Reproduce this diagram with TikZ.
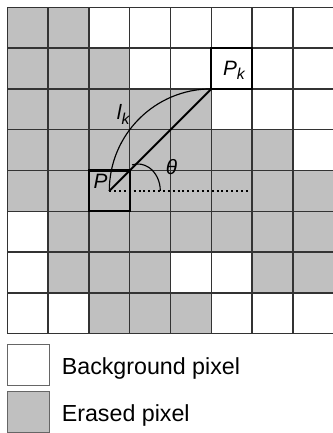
\documentclass[tikz,border=0pt]{standalone}
\usepackage{fontspec}
\setmainfont{Liberation Sans}
\definecolor{erased}{RGB}{192,192,192}
\tikzset{
  gridline/.style={black!80,line width=0.9pt},
  boldcell/.style={black,line width=1.6pt},
  lbl/.style={font=\fontsize{14.5}{17}\selectfont\itshape,inner sep=0pt,anchor=base west},
  legendbox/.style={draw=black!60,line width=0.7pt},
  legendtext/.style={font=\fontsize{16.2}{19}\selectfont,inner sep=0pt,anchor=base west},
}
\newcommand{\subk}{\raisebox{-0.2em}{\fontsize{11}{13}\selectfont k}}
\begin{document}
\begin{tikzpicture}
\useasboundingbox (-0.179,0.179) rectangle (7.983,-10.434);
% erased pixels, row by row from the top
\foreach \r/\cols in {0/{0,1},1/{0,1,2},2/{0,1,2,3,4},3/{0,1,2,3,4,5,6},
                      4/{0,1,2,3,4,5,6,7},5/{1,2,3,4,5,6,7},6/{1,2,3,6,7},7/{2,3,4}}
  \foreach \c in \cols
    \fill[erased] (\c,-\r) rectangle ++(1,-1);
\draw[gridline] (0,0) grid (8,-8);
\draw[boldcell] (2,-4) rectangle (3,-5);
\draw[boldcell] (5,-1) rectangle (6,-2);

\coordinate (P) at (2.5,-4.5);
\coordinate (Pk) at (5,-2);
\coordinate (Pend) at (5.95,-4.5);
\draw[line width=1.4pt] (P) -- (Pk);
\draw[line width=1.4pt,dotted] (P) -- (Pend);
\draw[line width=0.8pt] (Pk) arc[start angle=90,end angle=180,radius=2.5];
\draw[line width=0.8pt] (3.75,-4.5) arc[start angle=0,end angle=105,x radius=0.55,y radius=0.66];

\node[lbl] (Plabel) at (2.11,-4.44) {P};
\node[lbl] (Pklabel) at (5.28,-1.66) {P\subk};
\node[lbl] (lklabel) at (2.68,-2.76) {l\subk};
\node[lbl] (thetalabel) at (3.88,-4.09) {θ};

% legend
\draw[legendbox,fill=white] (0,-8.26) rectangle (1.03,-9.28);
\draw[legendbox,fill=erased] (0,-9.42) rectangle (1.03,-10.42);
\node[legendtext] (bglabel) at (1.33,-9.0) {Background pixel};
\node[legendtext] (erlabel) at (1.33,-10.14) {Erased pixel};
\end{tikzpicture}
\end{document}
